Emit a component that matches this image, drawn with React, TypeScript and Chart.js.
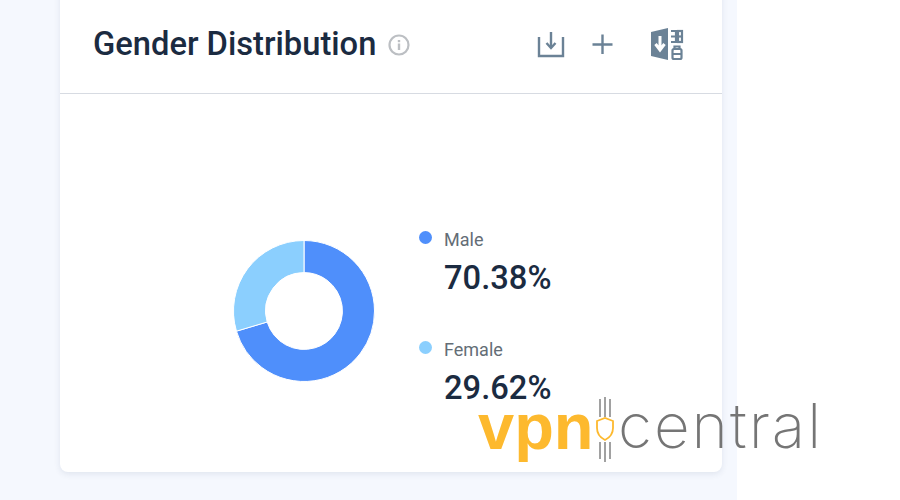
import React, { useEffect, useRef } from "react";
import { Chart, registerables } from "chart.js";

Chart.register(...registerables);

const categories = ["Male", "Female"];
const shares = [70.38, 29.62];
const sliceColors = ["#4f8ffb", "#8bcffe"];
const title = "Gender Distribution";

const ink = "#1b2b41";
const iconColor = "#6b8296";

const abs = (left: number, top: number, extra: React.CSSProperties = {}): React.CSSProperties => ({
  position: "absolute",
  left,
  top,
  whiteSpace: "nowrap",
  ...extra,
});

export default function App() {
  const ref = useRef<HTMLCanvasElement | null>(null);

  useEffect(() => {
    if (!ref.current) return;
    const chart = new Chart(ref.current, {
      type: "doughnut",
      data: {
        labels: categories,
        datasets: [
          {
            data: shares,
            backgroundColor: sliceColors,
            borderColor: "#ffffff",
            borderWidth: 1,
            hoverOffset: 0,
          },
        ],
      },
      options: {
        animation: false,
        responsive: false,
        maintainAspectRatio: false,
        cutout: "54.5%",
        layout: { padding: 0 },
        plugins: { legend: { display: false }, tooltip: { enabled: false } },
      },
    });
    return () => chart.destroy();
  }, []);

  const legendTops = [229, 339];
  const valueTops = [259, 369];
  const dotTops = [231, 341];

  return (
    <div
      style={{
        position: "fixed",
        inset: 0,
        width: 900,
        height: 500,
        overflow: "hidden",
        background: "#ffffff",
        fontFamily: "Roboto, sans-serif",
      }}
    >
      <div style={abs(0, 0, { width: 737, height: 500, background: "#f5f8fe" })} />
      <div
        style={abs(60, -20, {
          width: 662,
          height: 492,
          background: "#ffffff",
          borderRadius: 8,
          boxShadow: "0 2px 6px rgba(40,60,100,0.10)",
        })}
      />
      <div style={abs(60, 93, { width: 662, height: 1, background: "#d7dbe2" })} />

      <div style={abs(93, 25, { fontSize: 32.7, fontWeight: 500, lineHeight: "38px", color: ink })}>{title}</div>

      <svg style={abs(388, 34)} width="22" height="22" viewBox="0 0 22 22">
        <circle cx="11" cy="11" r="9.5" fill="none" stroke="#bcbfc3" strokeWidth="2.2" />
        <rect x="9.8" y="9.5" width="2.4" height="6.5" fill="#bcbfc3" />
        <rect x="9.8" y="6" width="2.4" height="2.2" fill="#bcbfc3" />
      </svg>

      <svg style={abs(536, 30)} width="30" height="30" viewBox="0 0 30 30" fill="none" stroke={iconColor} strokeWidth="2.4">
        <path d="M3 7 V26 H27 V7" />
        <path d="M15 2 V17" />
        <path d="M10.5 13 L15 18 L19.5 13" />
      </svg>
      <svg style={abs(590, 32)} width="25" height="25" viewBox="0 0 25 25" fill="none" stroke={iconColor} strokeWidth="2.4">
        <path d="M12.5 2.5 V22 M2.5 12.5 H22.5" />
      </svg>
      <svg style={abs(650, 27)} width="34" height="34" viewBox="0 0 34 34">
        <path d="M1 5 L18 1 V33 L1 29 Z" fill={iconColor} />
        <path d="M10 9 V21 M5.5 17 L10 23 L14.5 17" fill="none" stroke="#ffffff" strokeWidth="3" />
        <g fill="none" stroke={iconColor} strokeWidth="2.2">
          <path d="M21 4 H26 V15 H21 M21 9.5 H26" />
          <rect x="28" y="4" width="4" height="11" />
          <path d="M28 9.5 H32" />
          <rect x="22.5" y="22" width="9" height="10" rx="1.5" />
          <path d="M22.5 27 H31.5 M24.5 22 V19.5 H29.5 V22" />
        </g>
      </svg>

      <div style={abs(233, 240, { width: 142, height: 142 })}>
        <canvas ref={ref} width={142} height={142} style={{ width: 142, height: 142, display: "block" }} />
      </div>

      {categories.map((name, i) => (
        <React.Fragment key={name}>
          <div
            style={abs(419, dotTops[i], {
              width: 13,
              height: 13,
              borderRadius: "50%",
              background: sliceColors[i],
            })}
          />
          <div style={abs(444, legendTops[i], { fontSize: 18, lineHeight: "22px", color: "#646d76" })}>{name}</div>
          <div style={abs(444, valueTops[i], { fontSize: 32.7, fontWeight: 500, lineHeight: "38px", color: ink })}>
            {shares[i].toFixed(2)}%
          </div>
        </React.Fragment>
      ))}

      <div
        style={abs(478, 392, {
          fontFamily: "'Liberation Sans', sans-serif",
          fontSize: 65,
          fontWeight: 700,
          lineHeight: "70px",
          color: "#fdb92e",
        })}
      >
        vpn
      </div>
      <svg style={abs(594, 396)} width="24" height="67" viewBox="0 0 24 67" fill="none">
        <path d="M6 3 V21 M11 1 V21 M16 3 V21 M6 46 V63 M11 46 V66 M16 46 V63" stroke="#8a8a8a" strokeWidth="1.6" />
        <path d="M3 25 L11 22 L19 25 V32 Q19 40 11 44 Q3 40 3 32 Z" fill="#fff" stroke="#fdb92e" strokeWidth="1.8" />
      </svg>
      <div
        style={abs(618, 391, {
          fontFamily: "Inter, sans-serif",
          fontSize: 62,
          fontWeight: 200,
          letterSpacing: 2,
          lineHeight: "70px",
          color: "#757575",
        })}
      >
        central
      </div>
    </div>
  );
}
